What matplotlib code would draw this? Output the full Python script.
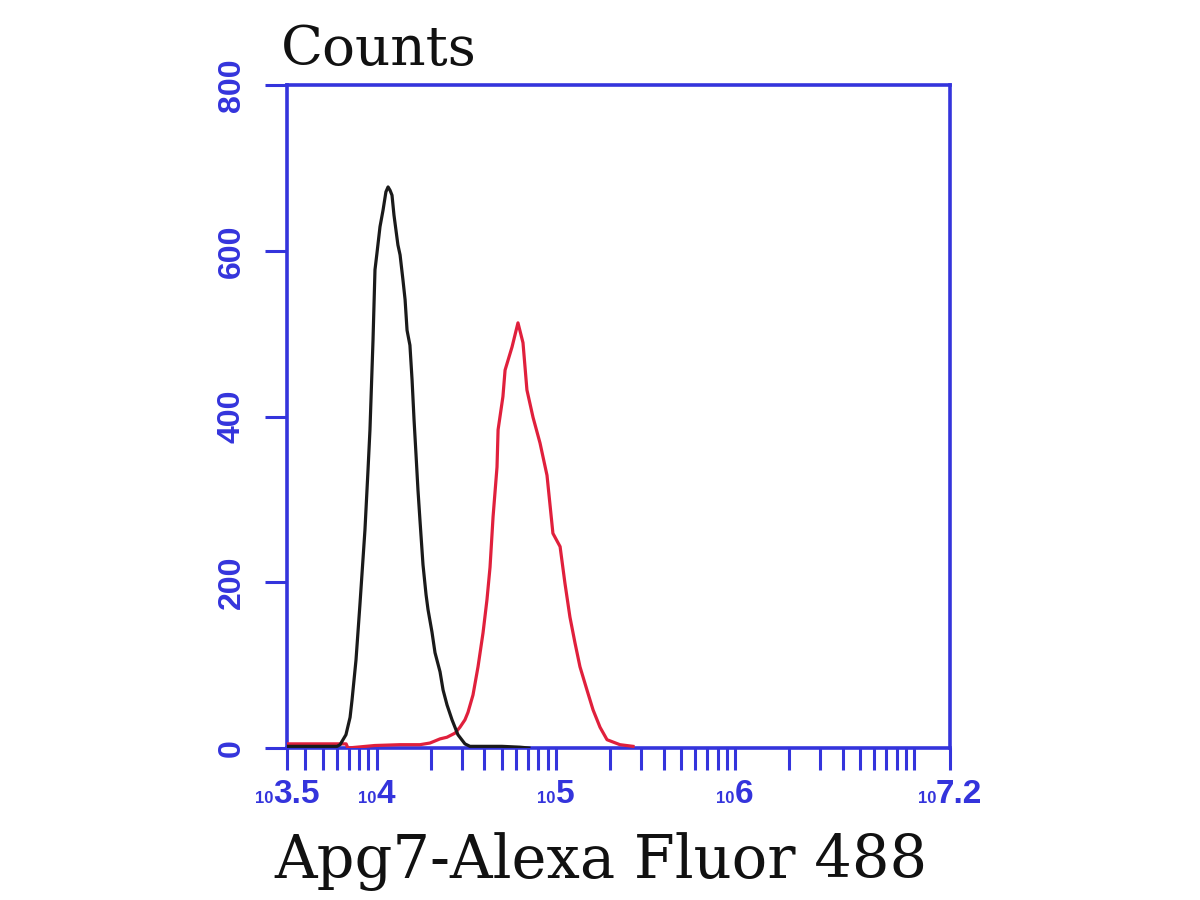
import numpy as np
import matplotlib
matplotlib.use("Agg")
import matplotlib.pyplot as plt
from matplotlib.offsetbox import TextArea, HPacker, AnnotationBbox

# ---- data (log10 of fluorescence intensity, counts) ----
black_log = [3.50, 3.60, 3.70, 3.78, 3.796, 3.829, 3.852, 3.863, 3.885, 3.907,
             3.935, 3.952, 3.963, 3.980, 3.991, 4.002, 4.019, 4.036, 4.052, 4.064,
             4.075, 4.086, 4.097, 4.108, 4.119, 4.131, 4.147, 4.159, 4.170, 4.186,
             4.198, 4.209, 4.220, 4.231, 4.242, 4.259, 4.276, 4.287, 4.309, 4.326,
             4.354, 4.371, 4.393, 4.421, 4.454, 4.493, 4.521, 4.60, 4.70, 4.80, 4.85]
black_counts = [2, 2, 2, 2, 4, 16, 37, 58, 106, 173,
                263, 335, 384, 492, 577, 597, 629, 649, 671, 677,
                673, 667, 643, 625, 607, 595, 565, 541, 504, 486,
                444, 396, 354, 311, 275, 221, 185, 167, 140, 115,
                92, 70, 52, 34, 16, 5, 2, 2, 2, 1, 0]

red_log = [3.50, 3.83, 3.84, 3.99, 4.131, 4.242, 4.298, 4.354, 4.393, 4.438,
           4.465, 4.493, 4.510, 4.538, 4.566, 4.594, 4.616, 4.633, 4.650, 4.672,
           4.678, 4.705, 4.717, 4.756, 4.789, 4.817, 4.839, 4.873, 4.912, 4.951,
           4.984, 5.024, 5.051, 5.079, 5.107, 5.135, 5.174, 5.208, 5.247, 5.286,
           5.358, 5.431]
red_counts = [5, 5, 0, 3, 4, 4, 6, 11, 13, 18,
              25, 34, 43, 64, 98, 139, 179, 218, 279, 339,
              384, 424, 456, 484, 513, 489, 432, 399, 368, 329,
              259, 243, 199, 158, 127, 98, 70, 46, 25, 10,
              4, 2]

x_major_exp = [3.5, 4, 5, 6, 7.2]
x_major_exp_labels = ["3.5", "4", "5", "6", "7.2"]
y_ticks = [0, 200, 400, 600, 800]

title_text = "Counts"
xlabel_text = "Apg7-Alexa Fluor 488"

BLUE = "#3434dc"
RED = "#e0203c"
BLACK = "#1a1a1a"

fig = plt.figure(figsize=(12, 9), dpi=100)
ax = fig.add_axes([287/1200, 1-748/900, (950-287)/1200, (748-85)/900])

ax.plot(10**np.array(red_log), red_counts, color=RED, lw=2.3, zorder=3)
ax.plot(10**np.array(black_log), black_counts, color=BLACK, lw=2.3, zorder=4)

ax.set_xscale("log")
ax.set_xlim(10**3.5, 10**7.2)
ax.set_ylim(0, 800)

major = [10**e for e in x_major_exp]
minor = [k*10**d for d in range(3, 7) for k in range(2, 10)
         if 10**3.5 < k*10**d < 10**7.2] + [1e7]
ax.set_xticks(major)
ax.set_xticks(minor, minor=True)
ax.set_xticklabels([""]*len(major))
ax.set_xticklabels([""]*len(minor), minor=True)
ax.set_yticks(y_ticks)
ax.set_yticklabels([str(v) for v in y_ticks], rotation=90, va="center",
                   fontsize=23, fontweight="bold", family="Liberation Sans",
                   color=BLUE)

ax.tick_params(axis="both", which="both", direction="out", length=16,
               width=2.2, color=BLUE)
ax.tick_params(axis="y", pad=13)
for s in ax.spines.values():
    s.set_color(BLUE)
    s.set_linewidth(2.6)

# x tick labels: small "10" followed by large exponent, centred on tick
for e, lab in zip(x_major_exp, x_major_exp_labels):
    t10 = TextArea("10", textprops=dict(fontsize=12, fontweight="bold",
                                         family="Liberation Sans", color=BLUE))
    texp = TextArea(lab, textprops=dict(fontsize=24, fontweight="bold",
                                         family="Liberation Sans", color=BLUE))
    pack = HPacker(children=[t10, texp], align="baseline", pad=0, sep=0)
    ab = AnnotationBbox(pack, (10**e, 0), xybox=(0, -22),
                        xycoords=("data", "axes fraction"),
                        boxcoords="offset points", box_alignment=(0.5, 1.0),
                        frameon=False, annotation_clip=False)
    ax.add_artist(ab)

fig.text(281/1200, 1-65/900, title_text, family="DejaVu Serif", fontsize=39.5,
         va="baseline", ha="left", color="#111111")
fig.text(274/1200, 1-878/900, xlabel_text, family="DejaVu Serif", fontsize=42.5,
         va="baseline", ha="left", color="#111111")

fig.savefig("out.png", dpi=100)
